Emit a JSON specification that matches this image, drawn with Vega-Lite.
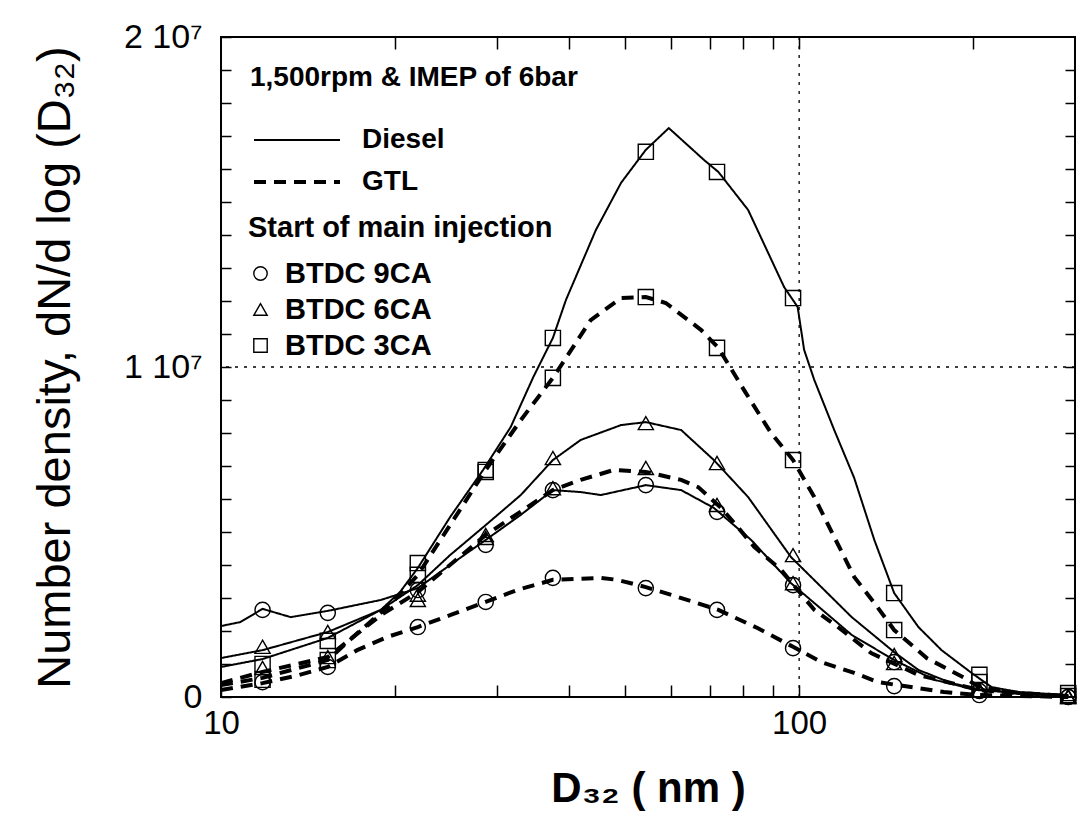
{
  "$schema": "https://vega.github.io/schema/vega-lite/v6.json",
  "width": 854,
  "height": 660,
  "autosize": {"type": "none"},
  "padding": {"left": 221, "top": 37, "right": 12, "bottom": 134},
  "background": "white",
  "config": {
    "font": "Liberation Sans",
    "view": {"stroke": "black", "strokeWidth": 2},
    "axis": {"domain": false, "grid": false, "tickColor": "black", "labelColor": "black", "titleColor": "black", "labelFont": "Liberation Sans", "titleFont": "Liberation Sans", "labelOverlap": false, "labelFlush": false},
    "legend": {"labelFont": "Liberation Sans", "titleFont": "Liberation Sans", "labelColor": "black", "titleColor": "black", "titleLimit": 700, "labelLimit": 500}
  },
  "datasets": {
    "vline": [{"D": 100}],
    "hline": [{"N": 10000000}],
    "lines": [
      {"fuel": "Diesel", "timing": "BTDC 3CA", "D": 10, "N": 910000},
      {"fuel": "Diesel", "timing": "BTDC 3CA", "D": 11.8, "N": 1150000},
      {"fuel": "Diesel", "timing": "BTDC 3CA", "D": 15.3, "N": 1790000},
      {"fuel": "Diesel", "timing": "BTDC 3CA", "D": 18.9, "N": 2640000},
      {"fuel": "Diesel", "timing": "BTDC 3CA", "D": 20.4, "N": 3180000},
      {"fuel": "Diesel", "timing": "BTDC 3CA", "D": 21.9, "N": 3910000},
      {"fuel": "Diesel", "timing": "BTDC 3CA", "D": 24.9, "N": 5450000},
      {"fuel": "Diesel", "timing": "BTDC 3CA", "D": 28.4, "N": 6880000},
      {"fuel": "Diesel", "timing": "BTDC 3CA", "D": 31.7, "N": 8180000},
      {"fuel": "Diesel", "timing": "BTDC 3CA", "D": 34.7, "N": 9700000},
      {"fuel": "Diesel", "timing": "BTDC 3CA", "D": 37.5, "N": 10880000},
      {"fuel": "Diesel", "timing": "BTDC 3CA", "D": 39.5, "N": 12030000},
      {"fuel": "Diesel", "timing": "BTDC 3CA", "D": 44.5, "N": 14150000},
      {"fuel": "Diesel", "timing": "BTDC 3CA", "D": 49.2, "N": 15580000},
      {"fuel": "Diesel", "timing": "BTDC 3CA", "D": 54.3, "N": 16580000},
      {"fuel": "Diesel", "timing": "BTDC 3CA", "D": 59.5, "N": 17240000},
      {"fuel": "Diesel", "timing": "BTDC 3CA", "D": 68.5, "N": 16270000},
      {"fuel": "Diesel", "timing": "BTDC 3CA", "D": 72.5, "N": 15910000},
      {"fuel": "Diesel", "timing": "BTDC 3CA", "D": 81.6, "N": 14760000},
      {"fuel": "Diesel", "timing": "BTDC 3CA", "D": 94.2, "N": 12420000},
      {"fuel": "Diesel", "timing": "BTDC 3CA", "D": 99.4, "N": 11820000},
      {"fuel": "Diesel", "timing": "BTDC 3CA", "D": 102, "N": 10520000},
      {"fuel": "Diesel", "timing": "BTDC 3CA", "D": 106.2, "N": 9610000},
      {"fuel": "Diesel", "timing": "BTDC 3CA", "D": 115, "N": 8090000},
      {"fuel": "Diesel", "timing": "BTDC 3CA", "D": 124.5, "N": 6640000},
      {"fuel": "Diesel", "timing": "BTDC 3CA", "D": 134.9, "N": 4760000},
      {"fuel": "Diesel", "timing": "BTDC 3CA", "D": 146, "N": 3150000},
      {"fuel": "Diesel", "timing": "BTDC 3CA", "D": 160.8, "N": 2120000},
      {"fuel": "Diesel", "timing": "BTDC 3CA", "D": 176.3, "N": 1420000},
      {"fuel": "Diesel", "timing": "BTDC 3CA", "D": 198.7, "N": 730000},
      {"fuel": "Diesel", "timing": "BTDC 3CA", "D": 215.2, "N": 300000},
      {"fuel": "Diesel", "timing": "BTDC 3CA", "D": 239.7, "N": 150000},
      {"fuel": "Diesel", "timing": "BTDC 3CA", "D": 292, "N": 60000},
      {"fuel": "GTL", "timing": "BTDC 3CA", "D": 10, "N": 360000},
      {"fuel": "GTL", "timing": "BTDC 3CA", "D": 11.8, "N": 580000},
      {"fuel": "GTL", "timing": "BTDC 3CA", "D": 15.3, "N": 1120000},
      {"fuel": "GTL", "timing": "BTDC 3CA", "D": 17.3, "N": 1970000},
      {"fuel": "GTL", "timing": "BTDC 3CA", "D": 19.6, "N": 2790000},
      {"fuel": "GTL", "timing": "BTDC 3CA", "D": 21.9, "N": 3700000},
      {"fuel": "GTL", "timing": "BTDC 3CA", "D": 24.9, "N": 5210000},
      {"fuel": "GTL", "timing": "BTDC 3CA", "D": 28.7, "N": 6880000},
      {"fuel": "GTL", "timing": "BTDC 3CA", "D": 33, "N": 8390000},
      {"fuel": "GTL", "timing": "BTDC 3CA", "D": 37.5, "N": 9670000},
      {"fuel": "GTL", "timing": "BTDC 3CA", "D": 43.6, "N": 11420000},
      {"fuel": "GTL", "timing": "BTDC 3CA", "D": 49.2, "N": 12090000},
      {"fuel": "GTL", "timing": "BTDC 3CA", "D": 54.3, "N": 12120000},
      {"fuel": "GTL", "timing": "BTDC 3CA", "D": 58.8, "N": 11940000},
      {"fuel": "GTL", "timing": "BTDC 3CA", "D": 67.7, "N": 11120000},
      {"fuel": "GTL", "timing": "BTDC 3CA", "D": 72.5, "N": 10580000},
      {"fuel": "GTL", "timing": "BTDC 3CA", "D": 80.3, "N": 9300000},
      {"fuel": "GTL", "timing": "BTDC 3CA", "D": 89.4, "N": 8000000},
      {"fuel": "GTL", "timing": "BTDC 3CA", "D": 97.6, "N": 7180000},
      {"fuel": "GTL", "timing": "BTDC 3CA", "D": 106.2, "N": 6060000},
      {"fuel": "GTL", "timing": "BTDC 3CA", "D": 124.5, "N": 3640000},
      {"fuel": "GTL", "timing": "BTDC 3CA", "D": 134.9, "N": 2850000},
      {"fuel": "GTL", "timing": "BTDC 3CA", "D": 146, "N": 2030000},
      {"fuel": "GTL", "timing": "BTDC 3CA", "D": 166.2, "N": 1180000},
      {"fuel": "GTL", "timing": "BTDC 3CA", "D": 193.2, "N": 580000},
      {"fuel": "GTL", "timing": "BTDC 3CA", "D": 205, "N": 300000},
      {"fuel": "GTL", "timing": "BTDC 3CA", "D": 239.7, "N": 120000},
      {"fuel": "GTL", "timing": "BTDC 3CA", "D": 292, "N": 30000},
      {"fuel": "Diesel", "timing": "BTDC 6CA", "D": 10, "N": 1180000},
      {"fuel": "Diesel", "timing": "BTDC 6CA", "D": 11.8, "N": 1420000},
      {"fuel": "Diesel", "timing": "BTDC 6CA", "D": 15.3, "N": 1970000},
      {"fuel": "Diesel", "timing": "BTDC 6CA", "D": 18.9, "N": 2640000},
      {"fuel": "Diesel", "timing": "BTDC 6CA", "D": 21.9, "N": 3390000},
      {"fuel": "Diesel", "timing": "BTDC 6CA", "D": 24.9, "N": 4300000},
      {"fuel": "Diesel", "timing": "BTDC 6CA", "D": 28.7, "N": 5210000},
      {"fuel": "Diesel", "timing": "BTDC 6CA", "D": 33, "N": 6120000},
      {"fuel": "Diesel", "timing": "BTDC 6CA", "D": 37.5, "N": 7180000},
      {"fuel": "Diesel", "timing": "BTDC 6CA", "D": 41.9, "N": 7790000},
      {"fuel": "Diesel", "timing": "BTDC 6CA", "D": 49.2, "N": 8240000},
      {"fuel": "Diesel", "timing": "BTDC 6CA", "D": 54.3, "N": 8330000},
      {"fuel": "Diesel", "timing": "BTDC 6CA", "D": 62.5, "N": 8090000},
      {"fuel": "Diesel", "timing": "BTDC 6CA", "D": 71.2, "N": 7180000},
      {"fuel": "Diesel", "timing": "BTDC 6CA", "D": 81.6, "N": 6060000},
      {"fuel": "Diesel", "timing": "BTDC 6CA", "D": 96.8, "N": 4240000},
      {"fuel": "Diesel", "timing": "BTDC 6CA", "D": 123.3, "N": 2420000},
      {"fuel": "Diesel", "timing": "BTDC 6CA", "D": 146, "N": 1360000},
      {"fuel": "Diesel", "timing": "BTDC 6CA", "D": 160.8, "N": 820000},
      {"fuel": "Diesel", "timing": "BTDC 6CA", "D": 183.6, "N": 420000},
      {"fuel": "Diesel", "timing": "BTDC 6CA", "D": 207, "N": 210000},
      {"fuel": "Diesel", "timing": "BTDC 6CA", "D": 292, "N": 30000},
      {"fuel": "GTL", "timing": "BTDC 6CA", "D": 10, "N": 420000},
      {"fuel": "GTL", "timing": "BTDC 6CA", "D": 11.8, "N": 760000},
      {"fuel": "GTL", "timing": "BTDC 6CA", "D": 15.3, "N": 1210000},
      {"fuel": "GTL", "timing": "BTDC 6CA", "D": 18.9, "N": 2480000},
      {"fuel": "GTL", "timing": "BTDC 6CA", "D": 21.9, "N": 3180000},
      {"fuel": "GTL", "timing": "BTDC 6CA", "D": 28.7, "N": 4910000},
      {"fuel": "GTL", "timing": "BTDC 6CA", "D": 37.5, "N": 6270000},
      {"fuel": "GTL", "timing": "BTDC 6CA", "D": 41.9, "N": 6580000},
      {"fuel": "GTL", "timing": "BTDC 6CA", "D": 47.8, "N": 6880000},
      {"fuel": "GTL", "timing": "BTDC 6CA", "D": 54.3, "N": 6820000},
      {"fuel": "GTL", "timing": "BTDC 6CA", "D": 62.5, "N": 6580000},
      {"fuel": "GTL", "timing": "BTDC 6CA", "D": 66.9, "N": 6360000},
      {"fuel": "GTL", "timing": "BTDC 6CA", "D": 73.3, "N": 5730000},
      {"fuel": "GTL", "timing": "BTDC 6CA", "D": 78.3, "N": 5150000},
      {"fuel": "GTL", "timing": "BTDC 6CA", "D": 83.6, "N": 4550000},
      {"fuel": "GTL", "timing": "BTDC 6CA", "D": 93.1, "N": 3850000},
      {"fuel": "GTL", "timing": "BTDC 6CA", "D": 106.2, "N": 2640000},
      {"fuel": "GTL", "timing": "BTDC 6CA", "D": 116.7, "N": 2120000},
      {"fuel": "GTL", "timing": "BTDC 6CA", "D": 133.2, "N": 1330000},
      {"fuel": "GTL", "timing": "BTDC 6CA", "D": 160.8, "N": 670000},
      {"fuel": "GTL", "timing": "BTDC 6CA", "D": 205, "N": 210000},
      {"fuel": "GTL", "timing": "BTDC 6CA", "D": 292, "N": 0},
      {"fuel": "Diesel", "timing": "BTDC 9CA", "D": 10, "N": 2150000},
      {"fuel": "Diesel", "timing": "BTDC 9CA", "D": 10.8, "N": 2270000},
      {"fuel": "Diesel", "timing": "BTDC 9CA", "D": 11.8, "N": 2670000},
      {"fuel": "Diesel", "timing": "BTDC 9CA", "D": 13.2, "N": 2420000},
      {"fuel": "Diesel", "timing": "BTDC 9CA", "D": 15.3, "N": 2610000},
      {"fuel": "Diesel", "timing": "BTDC 9CA", "D": 18.9, "N": 2940000},
      {"fuel": "Diesel", "timing": "BTDC 9CA", "D": 21.9, "N": 3300000},
      {"fuel": "Diesel", "timing": "BTDC 9CA", "D": 24.9, "N": 4000000},
      {"fuel": "Diesel", "timing": "BTDC 9CA", "D": 28.7, "N": 4760000},
      {"fuel": "Diesel", "timing": "BTDC 9CA", "D": 33, "N": 5520000},
      {"fuel": "Diesel", "timing": "BTDC 9CA", "D": 37.5, "N": 6270000},
      {"fuel": "Diesel", "timing": "BTDC 9CA", "D": 41.9, "N": 6210000},
      {"fuel": "Diesel", "timing": "BTDC 9CA", "D": 45.4, "N": 6120000},
      {"fuel": "Diesel", "timing": "BTDC 9CA", "D": 54.3, "N": 6420000},
      {"fuel": "Diesel", "timing": "BTDC 9CA", "D": 62.5, "N": 6270000},
      {"fuel": "Diesel", "timing": "BTDC 9CA", "D": 71.2, "N": 5730000},
      {"fuel": "Diesel", "timing": "BTDC 9CA", "D": 82.6, "N": 4760000},
      {"fuel": "Diesel", "timing": "BTDC 9CA", "D": 96.8, "N": 3450000},
      {"fuel": "Diesel", "timing": "BTDC 9CA", "D": 123.3, "N": 1880000},
      {"fuel": "Diesel", "timing": "BTDC 9CA", "D": 146, "N": 1120000},
      {"fuel": "Diesel", "timing": "BTDC 9CA", "D": 171.4, "N": 520000},
      {"fuel": "Diesel", "timing": "BTDC 9CA", "D": 203, "N": 210000},
      {"fuel": "Diesel", "timing": "BTDC 9CA", "D": 292, "N": 30000},
      {"fuel": "GTL", "timing": "BTDC 9CA", "D": 10, "N": 210000},
      {"fuel": "GTL", "timing": "BTDC 9CA", "D": 11.8, "N": 420000},
      {"fuel": "GTL", "timing": "BTDC 9CA", "D": 13.55, "N": 650000},
      {"fuel": "GTL", "timing": "BTDC 9CA", "D": 15.3, "N": 910000},
      {"fuel": "GTL", "timing": "BTDC 9CA", "D": 17.2, "N": 1420000},
      {"fuel": "GTL", "timing": "BTDC 9CA", "D": 19.4, "N": 1820000},
      {"fuel": "GTL", "timing": "BTDC 9CA", "D": 21.9, "N": 2120000},
      {"fuel": "GTL", "timing": "BTDC 9CA", "D": 24.9, "N": 2480000},
      {"fuel": "GTL", "timing": "BTDC 9CA", "D": 28.7, "N": 2880000},
      {"fuel": "GTL", "timing": "BTDC 9CA", "D": 32.5, "N": 3240000},
      {"fuel": "GTL", "timing": "BTDC 9CA", "D": 37.5, "N": 3550000},
      {"fuel": "GTL", "timing": "BTDC 9CA", "D": 45.4, "N": 3610000},
      {"fuel": "GTL", "timing": "BTDC 9CA", "D": 48.5, "N": 3550000},
      {"fuel": "GTL", "timing": "BTDC 9CA", "D": 54.3, "N": 3330000},
      {"fuel": "GTL", "timing": "BTDC 9CA", "D": 61.7, "N": 3030000},
      {"fuel": "GTL", "timing": "BTDC 9CA", "D": 72.5, "N": 2640000},
      {"fuel": "GTL", "timing": "BTDC 9CA", "D": 84.7, "N": 2090000},
      {"fuel": "GTL", "timing": "BTDC 9CA", "D": 97.6, "N": 1520000},
      {"fuel": "GTL", "timing": "BTDC 9CA", "D": 109.2, "N": 1060000},
      {"fuel": "GTL", "timing": "BTDC 9CA", "D": 124.5, "N": 730000},
      {"fuel": "GTL", "timing": "BTDC 9CA", "D": 137, "N": 450000},
      {"fuel": "GTL", "timing": "BTDC 9CA", "D": 178, "N": 150000},
      {"fuel": "GTL", "timing": "BTDC 9CA", "D": 205, "N": 60000},
      {"fuel": "GTL", "timing": "BTDC 9CA", "D": 292, "N": 0}
    ],
    "markers": [
      {"fuel": "Diesel", "timing": "BTDC 3CA", "D": 11.8, "N": 1000000},
      {"fuel": "Diesel", "timing": "BTDC 3CA", "D": 15.3, "N": 1700000},
      {"fuel": "Diesel", "timing": "BTDC 3CA", "D": 21.9, "N": 4060000},
      {"fuel": "Diesel", "timing": "BTDC 3CA", "D": 28.7, "N": 6820000},
      {"fuel": "Diesel", "timing": "BTDC 3CA", "D": 37.5, "N": 10880000},
      {"fuel": "Diesel", "timing": "BTDC 3CA", "D": 54.3, "N": 16520000},
      {"fuel": "Diesel", "timing": "BTDC 3CA", "D": 72.1, "N": 15910000},
      {"fuel": "Diesel", "timing": "BTDC 3CA", "D": 97.6, "N": 12090000},
      {"fuel": "Diesel", "timing": "BTDC 3CA", "D": 146, "N": 3150000},
      {"fuel": "Diesel", "timing": "BTDC 3CA", "D": 205, "N": 670000},
      {"fuel": "Diesel", "timing": "BTDC 3CA", "D": 292, "N": 120000},
      {"fuel": "GTL", "timing": "BTDC 3CA", "D": 11.8, "N": 520000},
      {"fuel": "GTL", "timing": "BTDC 3CA", "D": 15.3, "N": 1120000},
      {"fuel": "GTL", "timing": "BTDC 3CA", "D": 21.9, "N": 3700000},
      {"fuel": "GTL", "timing": "BTDC 3CA", "D": 28.7, "N": 6880000},
      {"fuel": "GTL", "timing": "BTDC 3CA", "D": 37.5, "N": 9670000},
      {"fuel": "GTL", "timing": "BTDC 3CA", "D": 54.3, "N": 12120000},
      {"fuel": "GTL", "timing": "BTDC 3CA", "D": 72.1, "N": 10580000},
      {"fuel": "GTL", "timing": "BTDC 3CA", "D": 97.6, "N": 7180000},
      {"fuel": "GTL", "timing": "BTDC 3CA", "D": 146, "N": 2030000},
      {"fuel": "GTL", "timing": "BTDC 3CA", "D": 205, "N": 450000},
      {"fuel": "GTL", "timing": "BTDC 3CA", "D": 292, "N": 30000},
      {"fuel": "Diesel", "timing": "BTDC 6CA", "D": 11.8, "N": 1520000},
      {"fuel": "Diesel", "timing": "BTDC 6CA", "D": 15.3, "N": 1970000},
      {"fuel": "Diesel", "timing": "BTDC 6CA", "D": 21.9, "N": 3100000},
      {"fuel": "Diesel", "timing": "BTDC 6CA", "D": 28.7, "N": 4820000},
      {"fuel": "Diesel", "timing": "BTDC 6CA", "D": 37.5, "N": 7240000},
      {"fuel": "Diesel", "timing": "BTDC 6CA", "D": 54.3, "N": 8300000},
      {"fuel": "Diesel", "timing": "BTDC 6CA", "D": 72.1, "N": 7090000},
      {"fuel": "Diesel", "timing": "BTDC 6CA", "D": 97.6, "N": 4300000},
      {"fuel": "Diesel", "timing": "BTDC 6CA", "D": 146, "N": 1270000},
      {"fuel": "Diesel", "timing": "BTDC 6CA", "D": 205, "N": 210000},
      {"fuel": "Diesel", "timing": "BTDC 6CA", "D": 292, "N": 30000},
      {"fuel": "GTL", "timing": "BTDC 6CA", "D": 11.8, "N": 880000},
      {"fuel": "GTL", "timing": "BTDC 6CA", "D": 15.3, "N": 1210000},
      {"fuel": "GTL", "timing": "BTDC 6CA", "D": 21.9, "N": 2940000},
      {"fuel": "GTL", "timing": "BTDC 6CA", "D": 28.7, "N": 4910000},
      {"fuel": "GTL", "timing": "BTDC 6CA", "D": 37.5, "N": 6330000},
      {"fuel": "GTL", "timing": "BTDC 6CA", "D": 54.3, "N": 6940000},
      {"fuel": "GTL", "timing": "BTDC 6CA", "D": 72.1, "N": 5820000},
      {"fuel": "GTL", "timing": "BTDC 6CA", "D": 97.6, "N": 3450000},
      {"fuel": "GTL", "timing": "BTDC 6CA", "D": 146, "N": 1030000},
      {"fuel": "GTL", "timing": "BTDC 6CA", "D": 205, "N": 210000},
      {"fuel": "GTL", "timing": "BTDC 6CA", "D": 292, "N": 0},
      {"fuel": "Diesel", "timing": "BTDC 9CA", "D": 11.8, "N": 2640000},
      {"fuel": "Diesel", "timing": "BTDC 9CA", "D": 15.3, "N": 2550000},
      {"fuel": "Diesel", "timing": "BTDC 9CA", "D": 21.9, "N": 3240000},
      {"fuel": "Diesel", "timing": "BTDC 9CA", "D": 28.7, "N": 4610000},
      {"fuel": "Diesel", "timing": "BTDC 9CA", "D": 37.5, "N": 6270000},
      {"fuel": "Diesel", "timing": "BTDC 9CA", "D": 54.3, "N": 6420000},
      {"fuel": "Diesel", "timing": "BTDC 9CA", "D": 72.1, "N": 5610000},
      {"fuel": "Diesel", "timing": "BTDC 9CA", "D": 97.6, "N": 3390000},
      {"fuel": "Diesel", "timing": "BTDC 9CA", "D": 146, "N": 1060000},
      {"fuel": "Diesel", "timing": "BTDC 9CA", "D": 205, "N": 180000},
      {"fuel": "Diesel", "timing": "BTDC 9CA", "D": 292, "N": 0},
      {"fuel": "GTL", "timing": "BTDC 9CA", "D": 11.8, "N": 450000},
      {"fuel": "GTL", "timing": "BTDC 9CA", "D": 15.3, "N": 910000},
      {"fuel": "GTL", "timing": "BTDC 9CA", "D": 21.9, "N": 2120000},
      {"fuel": "GTL", "timing": "BTDC 9CA", "D": 28.7, "N": 2880000},
      {"fuel": "GTL", "timing": "BTDC 9CA", "D": 37.5, "N": 3610000},
      {"fuel": "GTL", "timing": "BTDC 9CA", "D": 54.3, "N": 3300000},
      {"fuel": "GTL", "timing": "BTDC 9CA", "D": 72.1, "N": 2640000},
      {"fuel": "GTL", "timing": "BTDC 9CA", "D": 97.6, "N": 1480000},
      {"fuel": "GTL", "timing": "BTDC 9CA", "D": 146, "N": 330000},
      {"fuel": "GTL", "timing": "BTDC 9CA", "D": 205, "N": 60000},
      {"fuel": "GTL", "timing": "BTDC 9CA", "D": 292, "N": 0}
    ]
  },
  "layer": [
    {
      "data": {"name": "vline"},
      "mark": {"type": "rule", "strokeDash": [3, 6], "strokeWidth": 1.3, "color": "black"},
      "encoding": {
        "x": {"field": "D", "type": "quantitative", "scale": {"type": "log", "domain": [10, 300], "nice": false},
          "axis": {"orient": "top", "values": [20, 30, 40, 50, 60, 70, 80, 90, 100, 200], "labels": false, "tickSize": -12, "tickWidth": 1.5, "title": null}}
      }
    },
    {
      "data": {"name": "hline"},
      "mark": {"type": "rule", "strokeDash": [3, 6], "strokeWidth": 1.3, "color": "black"},
      "encoding": {
        "y": {"field": "N", "type": "quantitative", "scale": {"domain": [0, 20000000], "nice": false},
          "axis": {"orient": "right", "values": [1000000, 2000000, 3000000, 4000000, 5000000, 6000000, 7000000, 8000000, 9000000, 10000000, 11000000, 12000000, 13000000, 14000000, 15000000, 16000000, 17000000, 18000000, 19000000], "labels": false, "tickSize": -10, "tickWidth": 1.5, "title": null}}
      }
    },
    {
      "data": {"name": "lines"},
      "mark": {"type": "line", "color": "black"},
      "encoding": {
        "x": {"field": "D", "type": "quantitative", "scale": {"type": "log", "domain": [10, 300], "nice": false},
          "axis": {"orient": "bottom", "values": [10, 20, 30, 40, 50, 60, 70, 80, 90, 100, 200], "labelExpr": "datum.value == 10 ? '10' : (datum.value == 100 ? '100' : '')", "tickSize": -12, "tickWidth": 1.5, "labelFontSize": 33, "labelPadding": 22, "title": "D\u2083\u2082 ( nm )", "titleFontSize": 42, "titleFontWeight": "bold", "titlePadding": 28}},
        "y": {"field": "N", "type": "quantitative", "scale": {"domain": [0, 20000000], "nice": false},
          "axis": {"orient": "left", "values": [0, 1000000, 2000000, 3000000, 4000000, 5000000, 6000000, 7000000, 8000000, 9000000, 10000000, 11000000, 12000000, 13000000, 14000000, 15000000, 16000000, 17000000, 18000000, 19000000, 20000000], "labelExpr": "datum.value == 0 ? '0' : (datum.value == 10000000 ? '1 10\u2077' : (datum.value == 20000000 ? '2 10\u2077' : ''))", "tickSize": -10, "tickWidth": 1.5, "labelFontSize": 34, "labelPadding": 29, "title": "Number density, dN/d log (D\u2083\u2082)", "titleFontSize": 47, "titleFontWeight": "normal", "titlePadding": 44}},
        "strokeDash": {"field": "fuel", "type": "nominal", "scale": {"domain": ["Diesel", "GTL"], "range": [[1, 0], [12, 8]]},
          "legend": {"orient": "none", "legendX": 29, "legendY": 27, "padding": 0, "title": "1,500rpm & IMEP of 6bar", "titleFontSize": 28, "titleFontWeight": "bold", "titlePadding": 34, "labelFontSize": 28, "labelFontWeight": "bold", "symbolType": "M-1,0H7.6", "symbolSize": 400, "symbolStrokeColor": "black", "labelOffset": 84, "rowPadding": 14}},
        "strokeWidth": {"field": "fuel", "type": "nominal", "scale": {"domain": ["Diesel", "GTL"], "range": [2, 4]},
          "legend": {"orient": "none", "legendX": 29, "legendY": 27, "padding": 0, "title": "1,500rpm & IMEP of 6bar", "titleFontSize": 28, "titleFontWeight": "bold", "titlePadding": 34, "labelFontSize": 28, "labelFontWeight": "bold", "symbolType": "M-1,0H7.6", "symbolSize": 400, "symbolStrokeColor": "black", "labelOffset": 84, "rowPadding": 14}},
        "detail": {"field": "timing", "type": "nominal"}
      }
    },
    {
      "data": {"name": "markers"},
      "mark": {"type": "point", "filled": false, "color": "black", "strokeWidth": 1.4, "size": 230, "opacity": 1},
      "encoding": {
        "x": {"field": "D", "type": "quantitative", "scale": {"type": "log", "domain": [10, 300], "nice": false}, "axis": null},
        "y": {"field": "N", "type": "quantitative", "scale": {"domain": [0, 20000000], "nice": false}, "axis": null},
        "shape": {"field": "timing", "type": "nominal", "scale": {"domain": ["BTDC 9CA", "BTDC 6CA", "BTDC 3CA"], "range": ["circle", "triangle-up", "square"]},
          "legend": {"orient": "none", "legendX": 27, "legendY": 177, "padding": 0, "title": "Start of main injection", "titleFontSize": 29, "titleFontWeight": "bold", "titlePadding": 16, "labelFontSize": 29, "labelFontWeight": "bold", "symbolSize": 180, "symbolStrokeColor": "black", "symbolStrokeWidth": 1.4, "symbolFillColor": "transparent", "symbolOffset": -2, "labelOffset": 10, "rowPadding": 6}}
      }
    }
  ],
  "resolve": {"axis": {"x": "independent", "y": "independent"}}
}
